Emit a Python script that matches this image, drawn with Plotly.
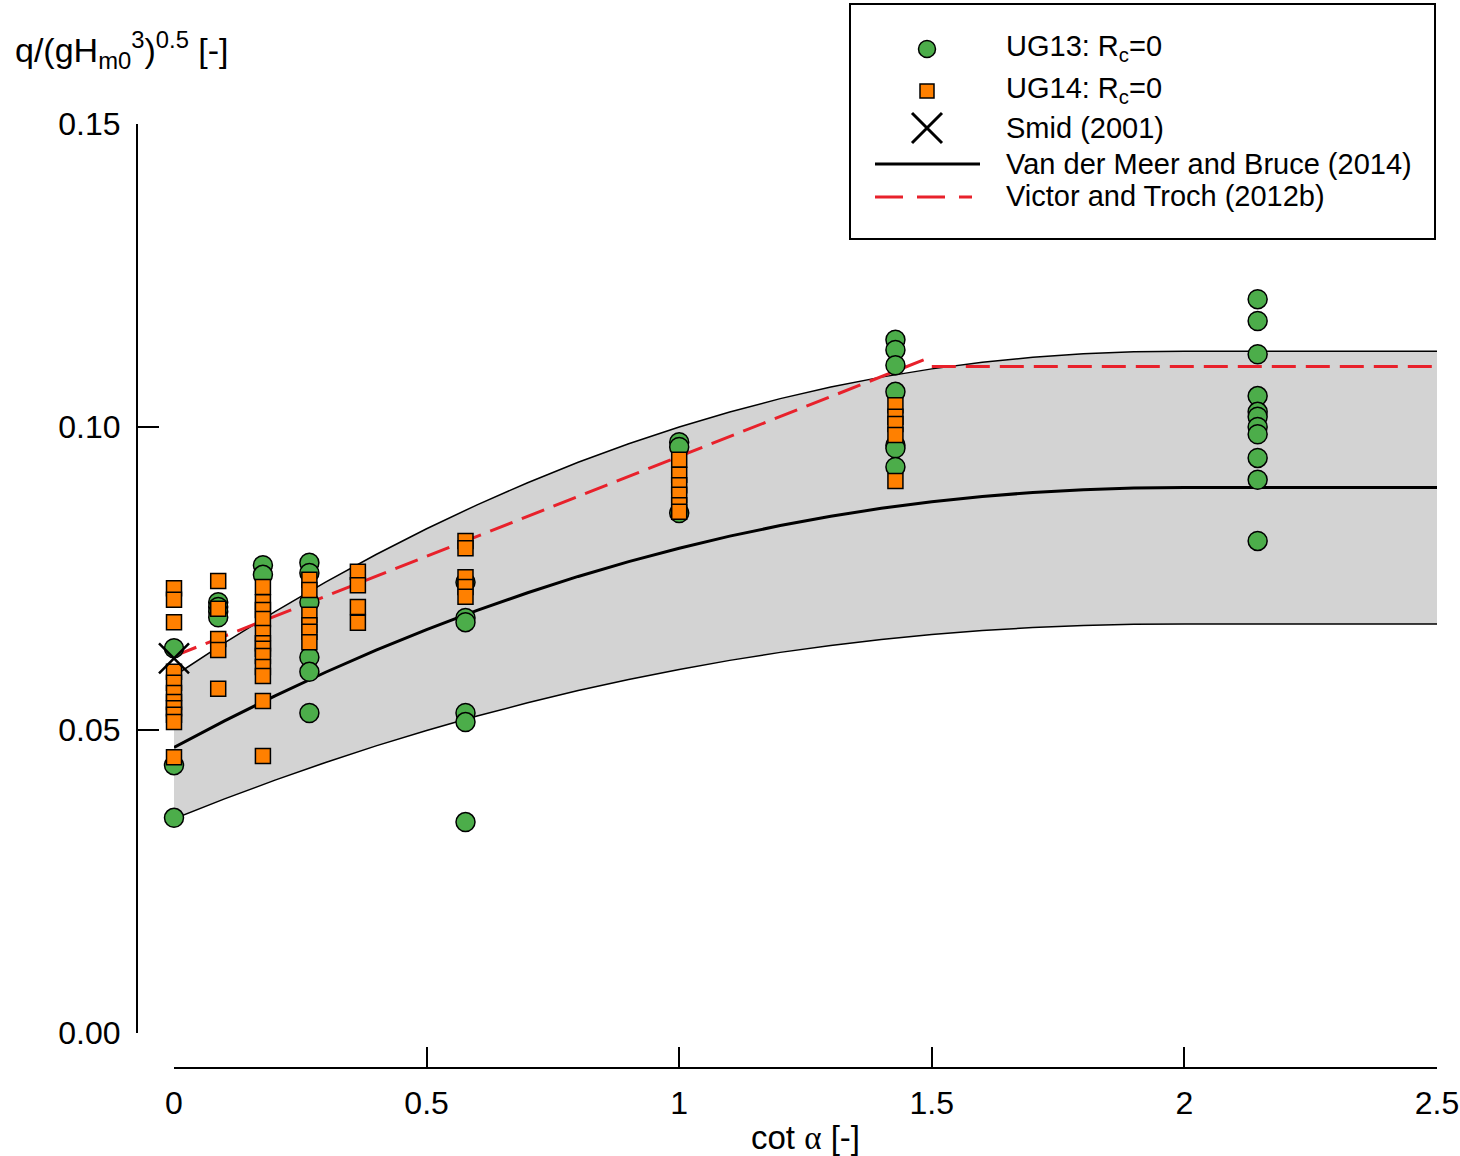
import plotly.graph_objects as go

W, H = 1460, 1156

# ---------------- data ----------------
# Van der Meer and Bruce (2014) curve and +/- band (sampled)
vdm_x = [0.0, 0.1, 0.2, 0.3, 0.4, 0.5, 0.6, 0.7, 0.8, 0.9, 1.0, 1.1, 1.2, 1.3,
         1.4, 1.5, 1.6, 1.7, 1.8, 1.9, 2.0, 2.5]
vdm_y = [0.04713, 0.05151, 0.05564, 0.05953, 0.06317, 0.06657, 0.06973, 0.07265,
         0.07534, 0.07778, 0.08000, 0.08199, 0.08374, 0.08527, 0.08658, 0.08767,
         0.08854, 0.08920, 0.08966, 0.08992, 0.09000, 0.09000]
vdm_upper = [0.05891, 0.06439, 0.06955, 0.07441, 0.07896, 0.08321, 0.08716, 0.09081,
             0.09418, 0.09723, 0.10000, 0.10249, 0.10468, 0.10659, 0.10823, 0.10959,
             0.11068, 0.11150, 0.11208, 0.11240, 0.11250, 0.11250]
vdm_lower = [0.03535, 0.03863, 0.04173, 0.04465, 0.04738, 0.04993, 0.05230, 0.05449,
             0.05651, 0.05834, 0.06000, 0.06149, 0.06281, 0.06395, 0.06494, 0.06575,
             0.06641, 0.06690, 0.06725, 0.06744, 0.06750, 0.06750]

# Victor and Troch (2012b)
vt_x = [0.0, 1.5, None, 1.5, 2.5]
vt_y = [0.0622, 0.1116, None, 0.110, 0.110]

# UG13: Rc=0 (circles)
ug13_x = ([0.0] * 3 + [0.0875] * 4 + [0.176] * 2 + [0.268] * 6 + [0.577] * 6
          + [1.0] * 3 + [1.428] * 7 + [2.145] * 11)
ug13_y = [0.0635, 0.0442, 0.0355,
          0.0711, 0.0703, 0.0695, 0.0686,
          0.0772, 0.0756,
          0.0776, 0.0759, 0.0711, 0.0620, 0.0596, 0.0528,
          0.0744, 0.0685, 0.0678, 0.0528, 0.0513, 0.0348,
          0.0975, 0.0967, 0.0858,
          0.1144, 0.1127, 0.1102, 0.1058, 0.0970, 0.0965, 0.0934,
          0.1211, 0.1175, 0.1120, 0.1051, 0.1025, 0.1017, 0.1000, 0.0988, 0.0949,
          0.0913, 0.0812]

# UG14: Rc=0 (squares)
ug14_x = ([0.0] * 11 + [0.0875] * 5 + [0.176] * 12 + [0.268] * 6 + [0.364] * 4
          + [0.577] * 5 + [1.0] * 6 + [1.428] * 5)
ug14_y = [0.0734, 0.0715, 0.0678, 0.0596, 0.0578, 0.0561, 0.0546, 0.0536, 0.0525,
          0.0513, 0.0455,
          0.0746, 0.0700, 0.0650, 0.0632, 0.0568,
          0.0736, 0.0711, 0.0698, 0.0683, 0.0660, 0.0643, 0.0634, 0.0622, 0.0604,
          0.0589, 0.0548, 0.0457,
          0.0748, 0.0731, 0.0690, 0.0673, 0.0662, 0.0645,
          0.0761, 0.0739, 0.0703, 0.0677,
          0.0812, 0.0800, 0.0752, 0.0736, 0.0720,
          0.0946, 0.0921, 0.0904, 0.0888, 0.0871, 0.0860,
          0.1036, 0.1017, 0.1005, 0.0987, 0.0911]

# Smid (2001)
smid_x = [0.0]
smid_y = [0.0618]

x_ticks = [0, 0.5, 1, 1.5, 2, 2.5]
x_ticklabels = ["0", "0.5", "1", "1.5", "2", "2.5"]
y_ticks = [0.0, 0.05, 0.10, 0.15]
y_ticklabels = ["0.00", "0.05", "0.10", "0.15"]

legend_labels = ["UG13: R<sub>c</sub>=0", "UG14: R<sub>c</sub>=0", "Smid (2001)",
                 "Van der Meer and Bruce (2014)", "Victor and Troch (2012b)"]

GREEN = "#4cad4a"
ORANGE = "#ff8000"
RED = "#e8212b"
FONT = "Arial, Liberation Sans, sans-serif"


def px(x):
    return x / W


def py(y):
    return 1 - y / H


fig = go.Figure()

# band
fig.add_trace(go.Scatter(x=vdm_x, y=vdm_lower, mode="lines",
                         line=dict(color="black", width=1.5), showlegend=False))
fig.add_trace(go.Scatter(x=vdm_x, y=vdm_upper, mode="lines", fill="tonexty",
                         fillcolor="#d3d3d3",
                         line=dict(color="black", width=1.5), showlegend=False))
fig.add_trace(go.Scatter(x=vdm_x, y=vdm_y, mode="lines",
                         line=dict(color="black", width=3), showlegend=False))
fig.add_trace(go.Scatter(x=vt_x, y=vt_y, mode="lines",
                         line=dict(color=RED, width=3, dash="24px,10px"),
                         showlegend=False))

fig.add_trace(go.Scatter(x=ug13_x, y=ug13_y, mode="markers", cliponaxis=False,
                         marker=dict(symbol="circle", size=19, color=GREEN,
                                     line=dict(color="black", width=1.5)),
                         showlegend=False))
fig.add_trace(go.Scatter(x=ug14_x, y=ug14_y, mode="markers", cliponaxis=False,
                         marker=dict(symbol="square", size=15, color=ORANGE,
                                     line=dict(color="black", width=1.5)),
                         showlegend=False))
fig.add_trace(go.Scatter(x=smid_x, y=smid_y, mode="markers", cliponaxis=False,
                         marker=dict(symbol="x-thin-open", size=30, color="black",
                                     line=dict(color="black", width=2.5)),
                         showlegend=False))

# ---- custom legend (aux axes in pixel units) ----
fig.add_trace(go.Scatter(x=[927], y=[49], xaxis="x2", yaxis="y2", mode="markers",
                         marker=dict(symbol="circle", size=17, color=GREEN,
                                     line=dict(color="black", width=1.5)),
                         showlegend=False, cliponaxis=False))
fig.add_trace(go.Scatter(x=[927], y=[91], xaxis="x2", yaxis="y2", mode="markers",
                         marker=dict(symbol="square", size=14, color=ORANGE,
                                     line=dict(color="black", width=1.5)),
                         showlegend=False, cliponaxis=False))
fig.add_trace(go.Scatter(x=[927], y=[128], xaxis="x2", yaxis="y2", mode="markers",
                         marker=dict(symbol="x-thin-open", size=30, color="black",
                                     line=dict(color="black", width=3)),
                         showlegend=False, cliponaxis=False))
fig.add_trace(go.Scatter(x=[875, 980], y=[164, 164], xaxis="x2", yaxis="y2",
                         mode="lines", line=dict(color="black", width=3),
                         showlegend=False, cliponaxis=False))
fig.add_trace(go.Scatter(x=[875, 972], y=[197, 197], xaxis="x2", yaxis="y2",
                         mode="lines", line=dict(color=RED, width=3, dash="28px,14px"),
                         showlegend=False, cliponaxis=False))

shapes = [dict(type="rect", xref="paper", yref="paper",
               x0=px(850), x1=px(1435), y0=py(239), y1=py(4),
               line=dict(color="black", width=2), fillcolor="rgba(0,0,0,0)")]

annotations = []
legend_y = [48, 90, 128, 164, 196]
for lab, yy in zip(legend_labels, legend_y):
    annotations.append(dict(x=px(1004), y=py(yy), xref="paper", yref="paper",
                            text=lab, showarrow=False, xanchor="left",
                            yanchor="middle", font=dict(size=29, color="black",
                                                        family=FONT)))

annotations.append(dict(x=px(13), y=py(50), xref="paper", yref="paper",
                        text="q/(gH<sub>m0</sub><sup>3</sup>)<sup>0.5</sup> [-]",
                        showarrow=False, xanchor="left", yanchor="middle",
                        font=dict(size=34, color="black", family=FONT)))
annotations.append(dict(x=px(805), y=py(1137), xref="paper", yref="paper",
                        text="cot <span style=\"font-family:'Liberation Serif', serif\">α</span> [-]",
                        showarrow=False, xanchor="center",
                        yanchor="middle",
                        font=dict(size=33, color="black", family=FONT)))

fig.update_layout(
    template="none",
    width=W, height=H, autosize=False,
    margin=dict(l=0, r=0, t=0, b=0, pad=0, autoexpand=False),
    paper_bgcolor="white", plot_bgcolor="rgba(0,0,0,0)",
    font=dict(family=FONT, size=32, color="black"),
    showlegend=False,
    xaxis=dict(domain=[px(174), px(1437)], range=[0, 2.5], anchor="free",
               position=py(1068), showgrid=False, zeroline=False, automargin=False,
               showline=True, linecolor="black", linewidth=2,
               ticks="inside", ticklen=20, tickwidth=2, tickcolor="black",
               tickvals=x_ticks, ticktext=x_ticklabels, ticklabelstandoff=7,
               tickfont=dict(size=32, family=FONT, color="black")),
    yaxis=dict(domain=[py(1033), py(124)], range=[0, 0.15], anchor="free",
               position=px(137), showgrid=False, zeroline=False, automargin=False,
               showline=True, linecolor="black", linewidth=2,
               ticks="inside", ticklen=21, tickwidth=2, tickcolor="black",
               tickvals=y_ticks, ticktext=y_ticklabels, ticklabelstandoff=9,
               tickfont=dict(size=32, family=FONT, color="black")),
    xaxis2=dict(domain=[0, 1], range=[0, W], anchor="y2", visible=False,
                fixedrange=True, automargin=False),
    yaxis2=dict(domain=[0, 1], range=[H, 0], anchor="x2", visible=False,
                fixedrange=True, automargin=False),
    shapes=shapes,
    annotations=annotations,
)

fig.write_html("out.html")
